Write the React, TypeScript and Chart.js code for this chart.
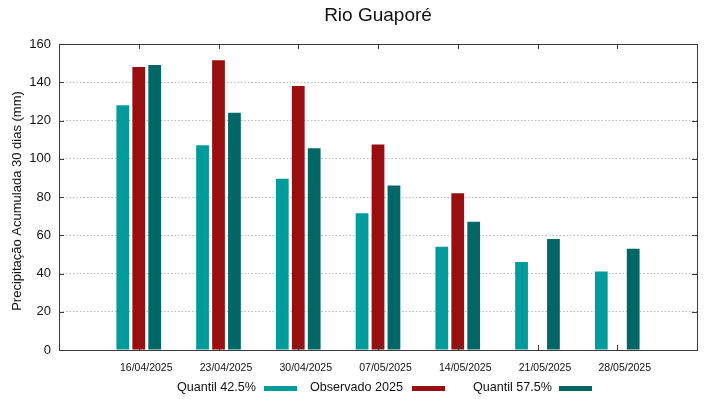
import React, { useEffect, useRef } from 'react';
import { Chart, registerables } from 'chart.js';

Chart.register(...registerables);

const titleText = 'Rio Guaporé';
const yAxisTitle = 'Precipitação Acumulada 30 dias (mm)';
const categories = ['16/04/2025', '23/04/2025', '30/04/2025', '07/05/2025', '14/05/2025', '21/05/2025', '28/05/2025'];
const quantil425 = [128, 107, 89.5, 71.5, 54, 46, 41];
const observado2025: (number | null)[] = [148, 151.5, 138, 107.5, 82, null, null];
const quantil575 = [149, 124, 105.5, 86, 67, 58, 53];
const seriesLabels = ['Quantil 42.5%', 'Observado 2025', 'Quantil 57.5%'];
const seriesColors = ['#009b9b', '#990e0e', '#016666'];
const yMin = 0;
const yMax = 160;
const yStep = 20;

const FONT = '"Liberation Sans", Arial, sans-serif';

const toPoints = (vals: (number | null)[]) => vals.map((v, i) => ({ x: i, y: v }));

const framePlugin = {
  id: 'frame',
  afterDraw(chart: any) {
    const { ctx, chartArea } = chart;
    const { left, right, top, bottom } = chartArea;
    const xs = chart.scales.x;
    const ys = chart.scales.y;
    ctx.save();
    ctx.strokeStyle = '#3a3a3a';
    ctx.lineWidth = 1;
    ctx.strokeRect(Math.round(left) + 0.5, Math.round(top) + 0.5, Math.round(right - left), Math.round(bottom - top));
    ctx.beginPath();
    for (let v = yMin; v <= yMax; v += yStep) {
      const y = Math.round(ys.getPixelForValue(v)) + 0.5;
      ctx.moveTo(left, y);
      ctx.lineTo(left + 5, y);
      ctx.moveTo(right - 5, y);
      ctx.lineTo(right, y);
    }
    categories.forEach((_, i) => {
      const x = Math.round(xs.getPixelForValue(i)) + 0.5;
      ctx.moveTo(x, bottom);
      ctx.lineTo(x, bottom - 5);
      ctx.moveTo(x, top);
      ctx.lineTo(x, top + 5);
    });
    ctx.stroke();

    // title
    ctx.fillStyle = '#111';
    ctx.font = `19px ${FONT}`;
    ctx.textAlign = 'center';
    ctx.textBaseline = 'middle';
    ctx.fillText(titleText, (left + right) / 2, 16);

    // y title
    ctx.save();
    ctx.translate(17, 201);
    ctx.rotate(-Math.PI / 2);
    ctx.font = `13px ${FONT}`;
    ctx.fillText(yAxisTitle, 0, 0);
    ctx.restore();

    // legend (gnuplot style: text then sample)
    const textRight = [256, 403, 552];
    const boxLeft = [264, 412, 559];
    const boxW = 33;
    ctx.font = `12.6px ${FONT}`;
    ctx.textAlign = 'right';
    seriesLabels.forEach((lab, i) => {
      ctx.fillStyle = '#111';
      ctx.fillText(lab, textRight[i], 388);
      ctx.fillStyle = seriesColors[i];
      ctx.fillRect(boxLeft[i], 386, boxW, 5);
    });
    ctx.restore();
  },
};

export default function App() {
  const ref = useRef<HTMLCanvasElement | null>(null);
  useEffect(() => {
    document.body.style.margin = '0';
    if (!ref.current) return;
    const chart = new Chart(ref.current, {
      type: 'bar',
      data: {
        datasets: [
          { label: seriesLabels[0], data: toPoints(quantil425) as any, backgroundColor: seriesColors[0] },
          { label: seriesLabels[1], data: toPoints(observado2025) as any, backgroundColor: seriesColors[1] },
          { label: seriesLabels[2], data: toPoints(quantil575) as any, backgroundColor: seriesColors[2] },
        ],
      },
      options: {
        animation: false,
        responsive: false,
        devicePixelRatio: 1,
        datasets: { bar: { categoryPercentage: 0.6, barPercentage: 0.8 } },
        layout: { padding: { left: 0, right: 22, top: 44, bottom: 0 } },
        plugins: { legend: { display: false }, title: { display: false }, tooltip: { enabled: false } },
        scales: {
          x: {
            type: 'linear',
            offset: false,
            min: -1,
            max: categories.length,
            grid: { display: false, drawTicks: false, offset: false },
            border: { display: false },
            afterFit: (s: any) => { s.height = 49; },
            ticks: {
              stepSize: 1,
              autoSkip: false,
              maxRotation: 0,
              padding: 12,
              labelOffset: 7.5,
              color: '#111',
              font: { family: FONT, size: 10.5 },
              callback: (v: any) => (Number.isInteger(v) && v >= 0 && v < categories.length ? categories[v] : ''),
            },
          },
          y: {
            min: yMin,
            max: yMax,
            grid: { color: '#b8b8b8', drawTicks: false, lineWidth: 1 },
            border: { display: false, dash: [1.5, 2] },
            afterFit: (s: any) => { s.width = 59; },
            ticks: {
              stepSize: yStep,
              padding: 8,
              color: '#111',
              font: { family: FONT, size: 13 },
            },
          },
        },
      },
      plugins: [framePlugin],
    });
    return () => chart.destroy();
  }, []);
  return <canvas ref={ref} width={719} height={399} style={{ display: 'block', width: 719, height: 399 }} />;
}
